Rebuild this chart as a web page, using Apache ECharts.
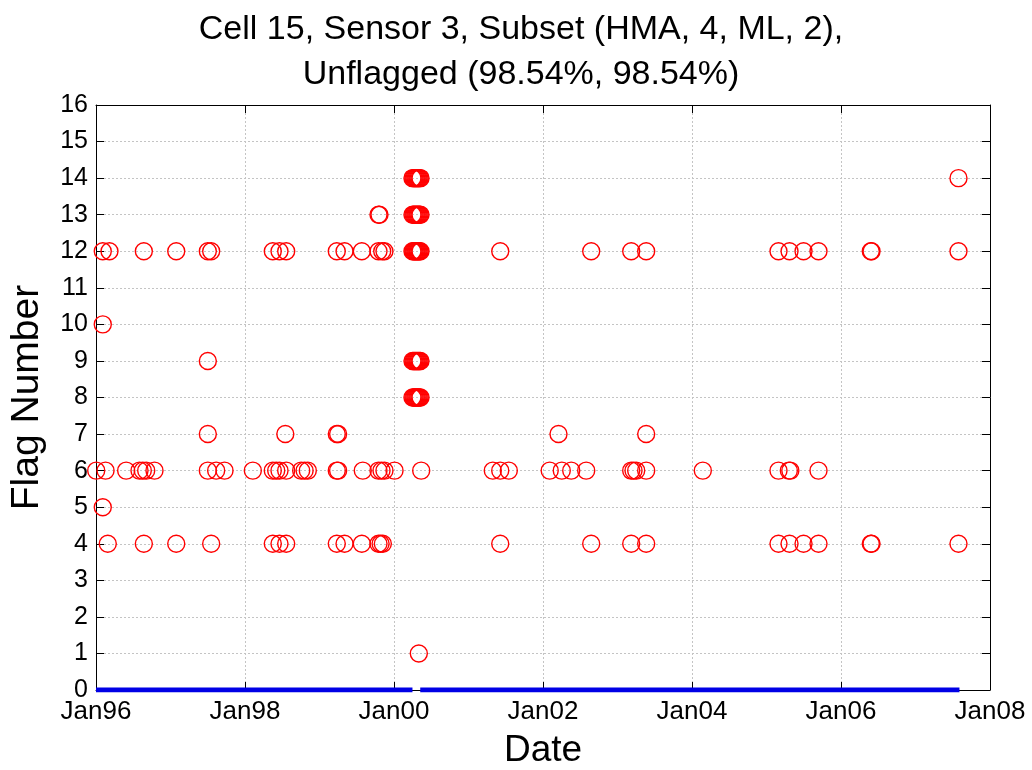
<!DOCTYPE html>
<html>
<head>
<meta charset="utf-8">
<script src="https://cdn.jsdelivr.net/npm/echarts@6/dist/echarts.min.js"></script>
<style>
  html, body { margin: 0; padding: 0; background: #fff; }
  #chart { width: 1032px; height: 770px; }
</style>
</head>
<body>
<div id="chart"></div>
<script>
// Flag events per flag number, dates as decimal years
const flag1Dates  = [2000.333];
const flag4Dates  = [1996.158, 1996.642, 1997.077, 1997.546, 1998.373, 1998.463, 1998.553,
                     1999.232, 1999.336, 1999.568, 1999.792, 1999.820, 1999.850,
                     2001.426, 2002.647, 2003.184, 2003.385,
                     2005.161, 2005.309, 2005.497, 2005.698, 2006.400, 2006.410, 2007.577];
const flag5Dates  = [1996.091];
const flag6Dates  = [1996.003, 1996.128, 1996.405, 1996.584, 1996.628, 1996.674, 1996.785,
                     1997.501, 1997.613, 1997.725, 1998.105, 1998.373, 1998.419, 1998.463,
                     1998.553, 1998.754, 1998.800, 1998.843, 1999.232, 1999.250, 1999.581,
                     1999.792, 1999.832, 1999.872, 2000.007, 2000.365,
                     2001.326, 2001.426, 2001.541, 2002.090, 2002.252, 2002.379, 2002.580,
                     2003.184, 2003.215, 2003.251, 2003.385, 2004.145,
                     2005.161, 2005.300, 2005.320, 2005.698];
const flag7Dates  = [1997.501, 1998.541, 1999.232, 1999.250, 2002.208, 2003.385];
const flag8Dates  = [2000.248, 2000.262, 2000.275, 2000.289, 2000.302, 2000.316, 2000.329, 2000.343, 2000.356];
const flag9Dates  = [1997.501, 2000.248, 2000.262, 2000.275, 2000.289, 2000.302, 2000.316, 2000.329, 2000.343, 2000.356];
const flag10Dates = [1996.091];
const flag12Dates = [1996.091, 1996.181, 1996.642, 1997.077, 1997.501, 1997.546,
                     1998.373, 1998.463, 1998.553, 1999.232, 1999.336, 1999.568,
                     1999.792, 1999.842, 1999.872,
                     2000.248, 2000.262, 2000.275, 2000.289, 2000.302, 2000.316, 2000.329, 2000.343, 2000.356,
                     2001.426, 2002.647, 2003.184, 2003.385,
                     2005.161, 2005.309, 2005.497, 2005.698, 2006.400, 2006.410, 2007.577];
const flag13Dates = [1999.792, 1999.805,
                     2000.248, 2000.262, 2000.275, 2000.289, 2000.302, 2000.316, 2000.329, 2000.343, 2000.356];
const flag14Dates = [2000.248, 2000.262, 2000.275, 2000.289, 2000.302, 2000.316, 2000.329, 2000.343, 2000.356,
                     2007.577];

// Unflagged stretches (flag 0)
const unflaggedStart = [1996.000, 2000.352];
const unflaggedEnd   = [2000.248, 2007.590];

// Axis ticks
const xTickYears = [1996, 1998, 2000, 2002, 2004, 2006, 2008];
const yTicks = [0, 1, 2, 3, 4, 5, 6, 7, 8, 9, 10, 11, 12, 13, 14, 15, 16];

const flagSets = [
  [1, flag1Dates], [4, flag4Dates], [5, flag5Dates], [6, flag6Dates], [7, flag7Dates],
  [8, flag8Dates], [9, flag9Dates], [10, flag10Dates], [12, flag12Dates],
  [13, flag13Dates], [14, flag14Dates]
];
const flagPoints = [];
flagSets.forEach(([flag, dates]) => dates.forEach(d => flagPoints.push([d, flag])));

const unflaggedLine = [];
unflaggedStart.forEach((s, i) => {
  if (i > 0) unflaggedLine.push(null);
  unflaggedLine.push([s, 0], [unflaggedEnd[i], 0]);
});

const FONT = "'Liberation Sans', Arial, Helvetica, sans-serif";
const gridLine = { show: true, lineStyle: { color: '#c4c4c4', type: [2, 2], width: 1 } };

const chart = echarts.init(document.getElementById('chart'), null, { renderer: 'canvas' });
chart.setOption({
  animation: false,
  backgroundColor: '#ffffff',
  title: {
    text: 'Cell 15, Sensor 3, Subset (HMA, 4, ML, 2),\nUnflagged (98.54%, 98.54%)',
    left: 516,
    top: 2,
    textAlign: 'center',
    textStyle: { fontFamily: FONT, fontSize: 34, fontWeight: 'normal', color: '#000', lineHeight: 45 }
  },
  grid: { left: 96, right: 42, top: 105, bottom: 80, containLabel: false, outerBoundsMode: 'none' },
  xAxis: [
    {
      type: 'value', position: 'bottom', min: 1996, max: 2008, interval: 2,
      name: 'Date', nameLocation: 'middle', nameGap: 42,
      nameTextStyle: { fontFamily: FONT, fontSize: 37, color: '#000' },
      axisLine: { show: true, onZero: false, lineStyle: { color: '#000', width: 1 } },
      axisTick: { show: true, inside: true, length: 8, lineStyle: { color: '#000' } },
      axisLabel: {
        fontFamily: FONT, fontSize: 26, color: '#000', margin: 9,
        formatter: v => xTickYears.includes(v) ? 'Jan' + String(v % 100).padStart(2, '0') : ''
      },
      splitLine: gridLine
    },
    {
      type: 'value', position: 'top', min: 1996, max: 2008, interval: 2,
      axisLine: { show: true, onZero: false, lineStyle: { color: '#000', width: 1 } },
      axisTick: { show: true, inside: true, length: 8, lineStyle: { color: '#000' } },
      axisLabel: { show: false },
      splitLine: { show: false }
    }
  ],
  yAxis: [
    {
      type: 'value', position: 'left', min: 0, max: 16, interval: 1,
      name: 'Flag Number', nameLocation: 'middle', nameGap: 49,
      nameTextStyle: { fontFamily: FONT, fontSize: 39, color: '#000' },
      axisLine: { show: true, onZero: false, lineStyle: { color: '#000', width: 1 } },
      axisTick: { show: true, inside: true, length: 8, lineStyle: { color: '#000' } },
      axisLabel: {
        fontFamily: FONT, fontSize: 25, color: '#000', margin: 8,
        formatter: v => yTicks.includes(v) ? String(v) : ''
      },
      splitLine: gridLine
    },
    {
      type: 'value', position: 'right', min: 0, max: 16, interval: 1,
      axisLine: { show: true, onZero: false, lineStyle: { color: '#000', width: 1 } },
      axisTick: { show: true, inside: true, length: 8, lineStyle: { color: '#000' } },
      axisLabel: { show: false },
      splitLine: { show: false }
    }
  ],
  series: [
    {
      name: 'Unflagged',
      type: 'line',
      xAxisIndex: 0, yAxisIndex: 0,
      data: unflaggedLine,
      connectNulls: false,
      showSymbol: false,
      symbol: 'none',
      lineStyle: { color: '#0000e6', width: 5, cap: 'butt' },
      z: 5
    },
    {
      name: 'Flagged',
      type: 'scatter',
      xAxisIndex: 0, yAxisIndex: 0,
      data: flagPoints,
      symbol: 'circle',
      symbolSize: 17,
      itemStyle: { color: 'rgba(0,0,0,0)', borderColor: '#ff0000', borderWidth: 1.4, opacity: 1 },
      emphasis: { disabled: true },
      z: 4
    }
  ]
});
</script>
</body>
</html>
